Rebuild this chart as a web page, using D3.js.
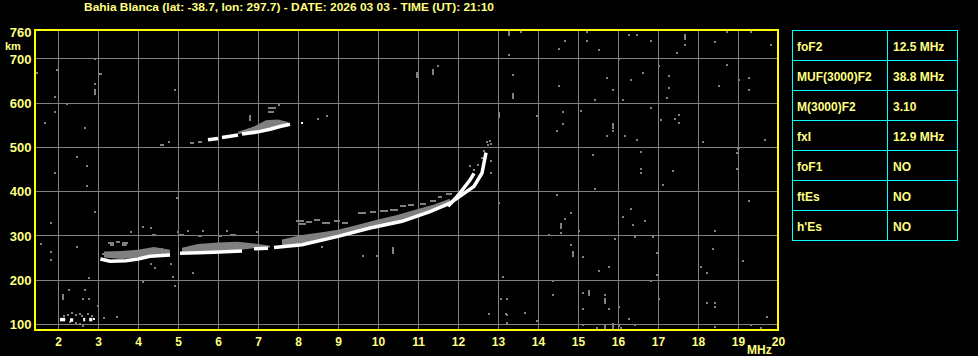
<!DOCTYPE html>
<html>
<head>
<meta charset="utf-8">
<script src="https://cdn.jsdelivr.net/npm/d3@7"></script>
<style>
  html, body { margin: 0; padding: 0; background: #000; overflow: hidden; }
  text { font-family: "Liberation Sans", Arial, sans-serif; font-weight: bold; fill: #ffff80; }
</style>
</head>
<body>
<svg id="chart" width="978" height="356"></svg>
<script>
// ---- data ----
var title = "Bahia Blanca (lat: -38.7, lon: 297.7) - DATE: 2026 03 03 - TIME (UT): 21:10";
var freqTicks = [2, 3, 4, 5, 6, 7, 8, 9, 10, 11, 12, 13, 14, 15, 16, 17, 18, 19, 20];
var heightTicks = [100, 200, 300, 400, 500, 600, 700];
var heightLabels = [100, 200, 300, 400, 500, 600, 700, 760];

var tableLabels = ["foF2", "MUF(3000)F2", "M(3000)F2", "fxI", "foF1", "ftEs", "h'Es"];
var tableValues = ["12.5 MHz", "38.8 MHz", "3.10", "12.9 MHz", "NO", "NO", "NO"];

// white (strong) echo traces, [MHz, km]
var whiteTraces = [
  [[2.05, 110], [2.18, 110]],
  [[2.3, 109], [2.38, 109]],
  [[2.63, 110], [2.68, 110]],
  [[2.78, 110], [2.86, 110]],
  [[3.06, 247], [3.3, 242], [3.7, 243], [4.0, 247], [4.3, 253], [4.8, 256]],
  [[5.05, 260], [5.5, 261], [5.9, 262], [6.6, 265]],
  [[6.9, 270], [7.25, 271]],
  [[7.4, 273], [8.1, 279], [9.0, 298], [9.8, 317], [10.6, 332], [11.3, 354], [11.8, 373], [12.1, 392], [12.4, 411], [12.6, 441], [12.7, 487]],
  [[11.75, 366], [11.95, 385], [12.1, 402], [12.3, 425], [12.4, 440]],
  [[5.75, 516], [6.0, 519]],
  [[6.1, 521], [6.5, 527]],
  [[6.6, 529], [7.0, 534], [7.3, 540], [7.55, 546], [7.8, 551]]
];
var whiteDots = [[8.1, 555], [2.12, 112], [2.9, 112]];

// spread (gray) echo bands, [MHz, km low, km high]
var grayBands = [
  [[3.15, 250, 264], [3.6, 247, 265], [4.0, 251, 268], [4.4, 256, 274], [4.8, 258, 268]],
  [[5.1, 263, 272], [5.5, 264, 281], [6.0, 265, 284], [6.5, 267, 286], [7.0, 272, 281], [7.3, 273, 277]],
  [[7.6, 277, 291], [8.1, 282, 301], [8.6, 291, 307], [9.0, 300, 313], [9.5, 310, 324], [10.0, 320, 336], [10.5, 331, 347], [11.0, 344, 360], [11.4, 357, 370], [11.8, 374, 383]],
  [[6.5, 529, 534], [6.9, 534, 546], [7.2, 540, 560], [7.5, 546, 562], [7.75, 551, 556]]
];

// short gray dashes of spread echoes, [MHz from, MHz to, km]
var grayDashes = [
  [3.25, 3.4, 285], [3.45, 3.55, 287], [3.6, 3.75, 285], [3.3, 3.4, 281], [3.6, 3.72, 281],
  [4.35, 4.45, 303], [3.1, 3.22, 260], [7.25, 7.4, 582], [7.25, 7.45, 591],
  [5.3, 5.4, 510], [5.5, 5.6, 514], [4.55, 4.65, 506],
  [5.0, 5.15, 303], [5.5, 5.6, 300], [6.0, 6.1, 301], [6.3, 6.45, 304],
  [7.95, 8.15, 336], [8.2, 8.35, 333], [8.4, 8.55, 338], [8.0, 8.2, 328], [8.6, 8.8, 330],
  [8.9, 9.05, 334], [9.1, 9.25, 331], [9.5, 9.7, 352], [9.8, 9.95, 356], [10.05, 10.25, 358],
  [10.3, 10.5, 360], [10.55, 10.7, 368], [10.75, 10.9, 372], [11.05, 11.2, 374],
  [11.3, 11.45, 380], [11.5, 11.6, 388], [11.7, 11.85, 395], [11.2, 11.35, 365]
];

// isolated gray dots (noise and scattered echoes), [MHz, km]
var grayDots = [
  [1.47, 668], [1.97, 673], [2.93, 699], [3.08, 664], [2.93, 641], [1.93, 613], [2.22, 596],
  [1.93, 578], [1.68, 555], [2.68, 542], [2.47, 478], [2.72, 456], [1.93, 442], [2.72, 411],
  [2.93, 352], [1.82, 329], [1.57, 280], [2.47, 275], [1.82, 262], [1.82, 244], [2.78, 203],
  [2.28, 176], [2.68, 176], [2.63, 157], [2.78, 157], [3.0, 140], [2.63, 95], [3.15, 113],
  [3.47, 116], [4.12, 320], [4.33, 316], [3.82, 307], [5.01, 307], [5.26, 311], [5.63, 311],
  [6.22, 311], [6.97, 307], [4.33, 235], [4.43, 226], [4.83, 235], [4.87, 207], [4.93, 185],
  [5.37, 216], [4.12, 194], [3.05, 665], [4.93, 628], [4.97, 384], [4.78, 510],
  [2.15, 118], [2.25, 121], [2.35, 124], [2.45, 120], [2.55, 122], [2.6, 117], [2.75, 122],
  [2.85, 118], [2.3, 105], [2.45, 103], [2.55, 101],
  [11.5, 682], [8.5, 564], [8.72, 569], [7.52, 595],
  [10.38, 272], [9.63, 253], [9.97, 253], [8.6, 275],
  [12.5, 460], [12.6, 475], [12.65, 490], [12.75, 505], [12.8, 513], [12.3, 456], [12.4, 448],
  [13.57, 759], [13.27, 708], [14.67, 740], [14.52, 722], [15.22, 759], [15.22, 740], [15.52, 718],
  [16.27, 753], [16.47, 753], [16.82, 740], [17.67, 731], [17.47, 713], [18.42, 736], [18.72, 759],
  [19.32, 759], [19.82, 731], [16.02, 699], [17.02, 682], [18.72, 686], [13.37, 663], [16.62, 668],
  [17.27, 659], [15.72, 655], [16.32, 650], [19.02, 650], [19.27, 655], [14.52, 637], [18.52, 637],
  [17.27, 632], [15.87, 628], [19.27, 628], [17.22, 610], [15.42, 605], [16.12, 605], [13.97, 569],
  [14.62, 578], [15.07, 582], [16.82, 587], [17.52, 573], [17.42, 564], [17.07, 560], [17.52, 555],
  [14.62, 551], [14.47, 537], [15.87, 537], [15.72, 524], [16.17, 524], [16.47, 515], [12.72, 510],
  [12.82, 506], [18.12, 510], [19.67, 515], [19.02, 497],
  [15.37, 482], [16.57, 488], [16.57, 451], [16.57, 442], [17.37, 446], [17.12, 415], [19.01, 496],
  [18.97, 487], [18.97, 451], [12.82, 469], [12.82, 442], [15.42, 405], [14.47, 392], [13.02, 374],
  [19.27, 378], [14.82, 351], [14.67, 338], [14.57, 306], [14.27, 302], [15.02, 311], [16.32, 360],
  [16.12, 342], [16.67, 333], [16.37, 324], [16.42, 297], [16.87, 297], [18.42, 311], [15.92, 293],
  [14.82, 279], [15.12, 252], [16.97, 261], [18.37, 270], [19.12, 243], [15.77, 229], [15.52, 220],
  [18.07, 229], [18.22, 216], [13.12, 207], [16.97, 211], [16.82, 198], [14.37, 198], [14.37, 166],
  [15.12, 171], [15.67, 166], [13.07, 157], [13.22, 157], [17.02, 157], [18.22, 148],
  [18.42, 148], [18.42, 139], [16.02, 139], [15.12, 135], [15.77, 135], [13.67, 125], [13.22, 121],
  [19.72, 116], [16.27, 112], [13.97, 107], [13.22, 103], [15.12, 98], [16.42, 98], [19.32, 98],
  [16.02, 96], [15.47, 90], [16.07, 90], [18.42, 94], [19.57, 90], [12.77, 122], [13.2, 122]
];
// taller gray specks, [MHz, km]
var grayTall = [
  [2.93, 624], [2.12, 160], [10.97, 663], [11.37, 670], [13.27, 757], [17.67, 749], [13.37, 616],
  [13.02, 571], [15.87, 548], [14.57, 322], [14.87, 259], [15.27, 169], [15.67, 151], [15.87, 96],
  [15.67, 92], [10.38, 264], [6.8, 565], [7.5, 555], [4.15, 262], [4.4, 265], [4.6, 264],
  [5.9, 273], [6.35, 276], [6.5, 276], [6.65, 276]
];

// ---- layout ----
var svg = d3.select("#chart");
var plot = { left: 35, right: 778, top: 30, bottom: 330 };

var x = d3.scaleLinear().domain([1.425, 20]).range([plot.left, plot.right]);
var y = d3.scaleLinear().domain([86.5, 764]).range([plot.bottom, plot.top]);

svg.append("rect").attr("width", 978).attr("height", 356).attr("fill", "#000");

// title
svg.append("text")
  .attr("x", 84).attr("y", 11)
  .style("font-size", "11px")
  .attr("textLength", 410).attr("lengthAdjust", "spacingAndGlyphs")
  .text(title);

// grid
var grid = svg.append("g").attr("class", "grid");
grid.selectAll("line.v").data(freqTicks.filter(function (d) { return d < 20; }))
  .enter().append("line")
  .attr("x1", function (d) { return Math.round(x(d)) + 0.5; })
  .attr("x2", function (d) { return Math.round(x(d)) + 0.5; })
  .attr("y1", plot.top).attr("y2", plot.bottom)
  .attr("stroke", "#808080").attr("stroke-width", 1);
grid.selectAll("line.h").data(heightTicks)
  .enter().append("line")
  .attr("y1", function (d) { return Math.round(y(d)) + 0.5; })
  .attr("y2", function (d) { return Math.round(y(d)) + 0.5; })
  .attr("x1", plot.left).attr("x2", plot.right)
  .attr("stroke", "#808080").attr("stroke-width", 1);

// echoes
var echoes = svg.append("g").attr("class", "echoes");

var band = d3.area()
  .x(function (d) { return x(d[0]); })
  .y0(function (d) { return y(d[1]); })
  .y1(function (d) { return y(d[2]); });
echoes.selectAll("path.band").data(grayBands)
  .enter().append("path")
  .attr("d", band)
  .attr("fill", "#808080");

echoes.selectAll("line.dash").data(grayDashes)
  .enter().append("line")
  .attr("x1", function (d) { return x(d[0]); })
  .attr("x2", function (d) { return x(d[1]); })
  .attr("y1", function (d) { return Math.round(y(d[2])) + 1; })
  .attr("y2", function (d) { return Math.round(y(d[2])) + 1; })
  .attr("stroke", "#808080").attr("stroke-width", 2);

echoes.selectAll("rect.dot").data(grayDots)
  .enter().append("rect")
  .attr("x", function (d) { return Math.round(x(d[0])) - 1; })
  .attr("y", function (d) { return Math.round(y(d[1])) - 1; })
  .attr("width", 2).attr("height", 2)
  .attr("fill", "#808080");

echoes.selectAll("rect.tall").data(grayTall)
  .enter().append("rect")
  .attr("x", function (d) { return Math.round(x(d[0])) - 1; })
  .attr("y", function (d) { return Math.round(y(d[1])) - 3; })
  .attr("width", 2).attr("height", 6)
  .attr("fill", "#808080");

var trace = d3.line()
  .x(function (d) { return x(d[0]); })
  .y(function (d) { return y(d[1]); });
echoes.selectAll("path.trace").data(whiteTraces)
  .enter().append("path")
  .attr("d", trace)
  .attr("fill", "none")
  .attr("stroke", "#fff")
  .attr("stroke-width", 3.5);

echoes.selectAll("rect.wdot").data(whiteDots)
  .enter().append("rect")
  .attr("x", function (d) { return Math.round(x(d[0])) - 1; })
  .attr("y", function (d) { return Math.round(y(d[1])) - 1; })
  .attr("width", 2).attr("height", 2)
  .attr("fill", "#fff");

// frame
svg.append("rect")
  .attr("x", plot.left).attr("y", plot.top)
  .attr("width", plot.right - plot.left).attr("height", plot.bottom - plot.top)
  .attr("fill", "none").attr("stroke", "#ffff00").attr("stroke-width", 2);

// axes labels
var xAxis = d3.axisBottom(x).tickValues(freqTicks).tickSize(0).tickPadding(0).tickFormat(d3.format("d"));
var gx = svg.append("g").attr("transform", "translate(0," + 337 + ")").call(xAxis);
gx.select(".domain").remove();
gx.selectAll("text")
  .attr("dy", null).attr("y", 9)
  .style("font-size", "12px").attr("fill", "#ffff80");

svg.append("text").attr("x", 747).attr("y", 353.5).style("font-size", "12px").text("MHz");

var yAxis = d3.axisLeft(y).tickValues(heightLabels).tickSize(0).tickPadding(0).tickFormat(d3.format("d"));
var gy = svg.append("g").attr("transform", "translate(31.5,0)").call(yAxis);
gy.select(".domain").remove();
gy.selectAll("text")
  .attr("dy", "0.36em")
  .style("font-size", "13px").attr("fill", "#ffff80");

svg.append("text").attr("x", 5).attr("y", 50).style("font-size", "11px").text("km");

// parameter table
var table = svg.append("g").attr("class", "params");
var col0 = 792.5, col1 = 887.5, col2 = 957.5, rowTop = 30.5, rowH = 30;
table.selectAll("rect.cell").data(tableLabels)
  .enter().append("rect")
  .attr("x", col0).attr("y", function (d, i) { return rowTop + i * rowH; })
  .attr("width", col2 - col0).attr("height", rowH)
  .attr("fill", "none").attr("stroke", "#00ffff").attr("stroke-width", 1);
table.append("line")
  .attr("x1", col1).attr("x2", col1)
  .attr("y1", rowTop).attr("y2", rowTop + rowH * tableLabels.length)
  .attr("stroke", "#00ffff").attr("stroke-width", 1);
table.selectAll("text.lab").data(tableLabels)
  .enter().append("text")
  .attr("x", 797).attr("y", function (d, i) { return rowTop + i * rowH + 20; })
  .style("font-size", "12px")
  .text(function (d) { return d; });
table.selectAll("text.val").data(tableValues)
  .enter().append("text")
  .attr("x", 893).attr("y", function (d, i) { return rowTop + i * rowH + 20; })
  .style("font-size", "12px")
  .text(function (d) { return d; });
</script>
</body>
</html>
